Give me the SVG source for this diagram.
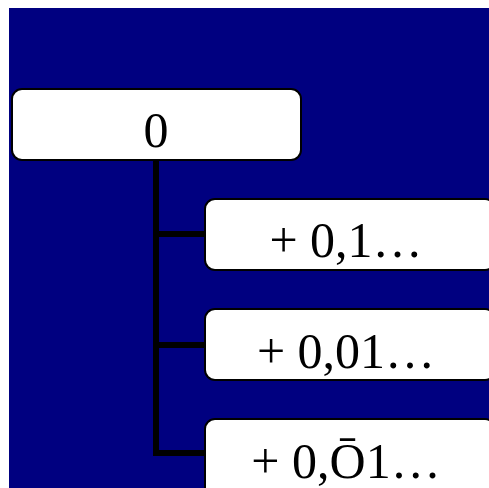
<svg xmlns="http://www.w3.org/2000/svg" width="489" height="488" viewBox="0 0 489 488">
<style>
.box{fill:#fff;stroke:#000;stroke-width:2}
.lbl{font-family:"Liberation Serif","Times New Roman",serif;font-size:50px;fill:#000;text-anchor:middle}
.conn{fill:none;stroke:#000;stroke-width:6}
</style>
<rect x="9" y="8" width="480" height="480" fill="#000080"/>
<g id="connectors">
<path class="conn" d="M156 160 V453 H205"/>
<path class="conn" d="M156 234 H205"/>
<path class="conn" d="M156 345 H205"/>
</g>
<g id="root">
<rect class="box" x="12" y="89" width="289" height="71" rx="10"/>
<text class="lbl" x="156" y="147">0</text>
</g>
<g id="n1">
<rect class="box" x="205" y="199" width="290" height="71" rx="10"/>
<text class="lbl" x="346" y="257">+ 0,1…</text>
</g>
<g id="n2">
<rect class="box" x="205" y="309" width="290" height="71" rx="10"/>
<text class="lbl" x="346" y="368">+ 0,01…</text>
</g>
<g id="n3">
<rect class="box" x="205" y="419" width="290" height="80" rx="10"/>
<text class="lbl" x="346" y="478">+ 0,Ō1…</text>
</g>
</svg>
